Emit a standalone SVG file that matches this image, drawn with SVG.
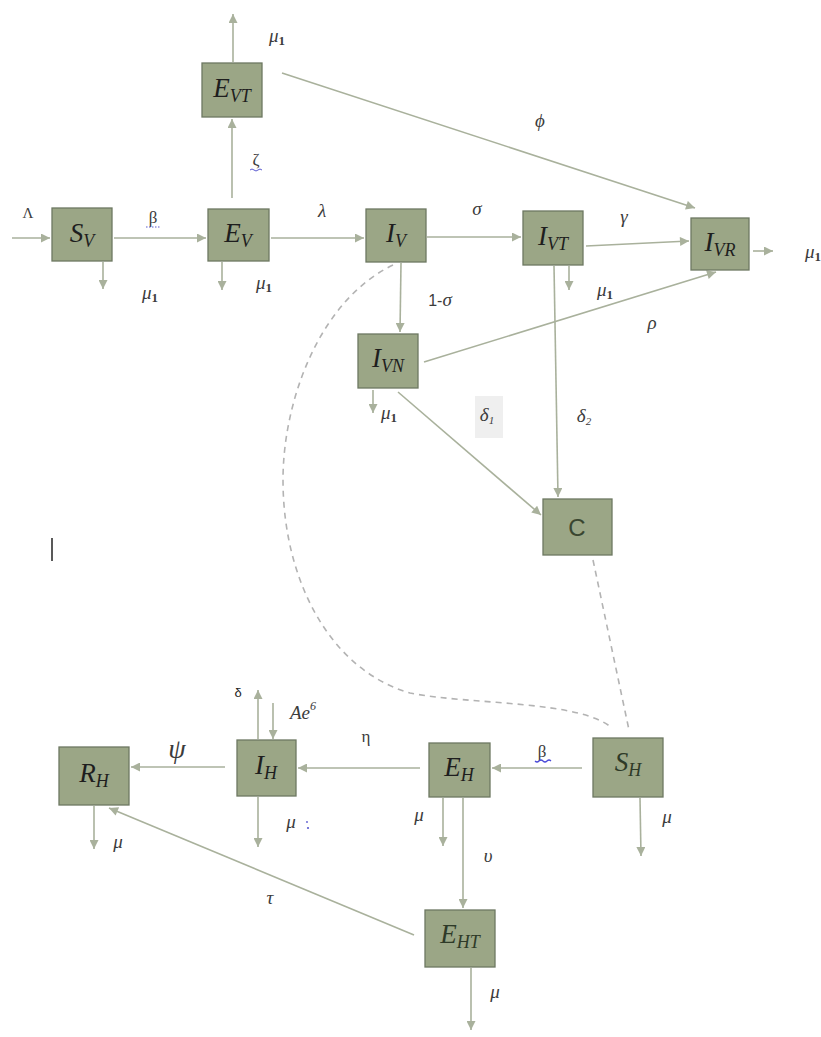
<svg xmlns="http://www.w3.org/2000/svg" width="821" height="1037" viewBox="0 0 821 1037">
<style>
.box{fill:#9ba686;stroke:#6d7862;stroke-width:1.3}
.c{fill:none;stroke:#a9b19c;stroke-width:1.6}
.d{fill:none;stroke:#b3b3b3;stroke-width:1.6;stroke-dasharray:6 5}
.bl{font-family:"Liberation Serif","DejaVu Serif",serif;font-style:italic;font-size:27px;fill:#1e1e1e;text-anchor:middle}
.sub{font-size:18px}
.lb{font-family:"Liberation Serif","DejaVu Serif",serif;font-style:italic;font-size:19px;fill:#3c3c3c;text-anchor:middle}
.up{font-family:"Liberation Serif","DejaVu Serif",serif;font-style:normal;font-size:17px;fill:#3c3c3c;text-anchor:middle}
.s1{font-style:normal;font-size:13px;font-weight:bold}
</style>
<defs>
<marker id="ah" viewBox="0 0 10 10" refX="10" refY="5" markerWidth="10" markerHeight="9" markerUnits="userSpaceOnUse" orient="auto">
<path d="M0,0 L10,5 L0,10 z" fill="#a9b19c"/>
</marker>
</defs>

<g id="connectors">
<line class="c" x1="12" y1="238" x2="50" y2="238" marker-end="url(#ah)"/>
<line class="c" x1="114" y1="238" x2="206" y2="238" marker-end="url(#ah)"/>
<line class="c" x1="103" y1="262" x2="103" y2="289" marker-end="url(#ah)"/>
<line class="c" x1="222" y1="262" x2="222" y2="290" marker-end="url(#ah)"/>
<line class="c" x1="232" y1="198" x2="232" y2="119" marker-end="url(#ah)"/>
<line class="c" x1="233" y1="62" x2="233" y2="14" marker-end="url(#ah)"/>
<line class="c" x1="282" y1="73" x2="695" y2="208" marker-end="url(#ah)"/>
<line class="c" x1="271" y1="238" x2="364" y2="238" marker-end="url(#ah)"/>
<line class="c" x1="427" y1="237" x2="521" y2="237" marker-end="url(#ah)"/>
<line class="c" x1="586" y1="246" x2="689" y2="241" marker-end="url(#ah)"/>
<line class="c" x1="753" y1="251" x2="773" y2="251" marker-end="url(#ah)"/>
<line class="c" x1="401" y1="263" x2="400" y2="332" marker-end="url(#ah)"/>
<line class="c" x1="569" y1="266" x2="569" y2="290" marker-end="url(#ah)"/>
<line class="c" x1="554" y1="266" x2="558" y2="497" marker-end="url(#ah)"/>
<line class="c" x1="424" y1="362" x2="716" y2="272" marker-end="url(#ah)"/>
<line class="c" x1="373" y1="390" x2="373" y2="413" marker-end="url(#ah)"/>
<line class="c" x1="398" y1="392" x2="541" y2="515" marker-end="url(#ah)"/>
<path class="d" d="M393,265 C320,300 283,400 283,480 C283,580 330,670 410,693 C470,705 580,700 612,728"/>
<line class="d" x1="593" y1="560" x2="629" y2="730"/>
<line class="c" x1="582" y1="768" x2="492" y2="768" marker-end="url(#ah)"/>
<line class="c" x1="640" y1="798" x2="641" y2="856" marker-end="url(#ah)"/>
<line class="c" x1="443" y1="798" x2="443" y2="846" marker-end="url(#ah)"/>
<line class="c" x1="463" y1="798" x2="463" y2="908" marker-end="url(#ah)"/>
<line class="c" x1="420" y1="768" x2="298" y2="768" marker-end="url(#ah)"/>
<line class="c" x1="225" y1="767" x2="131" y2="767" marker-end="url(#ah)"/>
<line class="c" x1="258" y1="739" x2="258" y2="690" marker-end="url(#ah)"/>
<line class="c" x1="273" y1="703" x2="273" y2="739" marker-end="url(#ah)"/>
<line class="c" x1="258" y1="797" x2="258" y2="847" marker-end="url(#ah)"/>
<line class="c" x1="94" y1="806" x2="94" y2="849" marker-end="url(#ah)"/>
<line class="c" x1="414" y1="935" x2="109" y2="808" marker-end="url(#ah)"/>
<line class="c" x1="471" y1="968" x2="471" y2="1030" marker-end="url(#ah)"/>
</g>

<g id="labels">
<text class="up" x="28" y="218" style="font-size:15px">Λ</text>
<text class="up" x="153" y="223">β</text>
<line x1="146" y1="227" x2="161" y2="227" stroke="#5a5ad0" stroke-width="1.2" stroke-dasharray="1.5 1.5"/>
<text class="lb" x="150" y="299">μ<tspan class="s1" dy="3">1</tspan></text>
<text class="lb" x="264" y="289">μ<tspan class="s1" dy="3">1</tspan></text>
<text class="up" x="256" y="165">ζ</text>
<path d="M250,170 q2,-2 4,0 t4,0 t4,0" fill="none" stroke="#5a5ad0" stroke-width="1"/>
<text class="lb" x="277" y="42">μ<tspan class="s1" dy="3">1</tspan></text>
<text class="lb" x="540" y="127">ϕ</text>
<text class="lb" x="322" y="217">λ</text>
<text class="lb" x="477" y="215">σ</text>
<text class="lb" x="624" y="223">γ</text>
<text class="lb" x="805" y="258" style="text-anchor:start">μ<tspan class="s1" dy="3">1</tspan></text>
<text class="lb" x="440" y="306"><tspan style="font-family:'Liberation Sans',sans-serif;font-style:normal;font-size:16px">1-</tspan>σ</text>
<text class="lb" x="605" y="296">μ<tspan class="s1" dy="3">1</tspan></text>
<text class="lb" x="652" y="329">ρ</text>
<text class="lb" x="389" y="419">μ<tspan class="s1" dy="3">1</tspan></text>
<rect x="475" y="396" width="28" height="42" fill="#efefef"/>
<text class="lb" x="487" y="421">δ<tspan style="font-size:11px" dy="3">1</tspan></text>
<text class="lb" x="584" y="422">δ<tspan style="font-size:11px" dy="3">2</tspan></text>
<text class="lb" x="177" y="758" style="font-size:28px">ψ</text>
<text x="238" y="697" style="font-family:'Liberation Sans',sans-serif;font-size:13px;fill:#222;text-anchor:middle">δ</text>
<text class="lb" x="303" y="719">Ae<tspan style="font-size:12px" dy="-9">6</tspan></text>
<text class="up" x="366" y="742">η</text>
<text class="up" x="542" y="757">β</text>
<path d="M535,761 q2,2 4,0 t4,0 t4,0 t4,0" fill="none" stroke="#4a4ad8" stroke-width="1.2"/>
<text class="lb" x="291" y="828">μ</text>
<circle cx="307" cy="822" r="0.9" fill="#5a5ad0"/>
<circle cx="308" cy="828" r="1.1" fill="#5a5ad0"/>
<text class="lb" x="118" y="848">μ</text>
<text class="lb" x="419" y="821">μ</text>
<text class="lb" x="488" y="862">υ</text>
<text class="lb" x="667" y="823">μ</text>
<text class="lb" x="270" y="904">τ</text>
<text class="lb" x="495" y="998">μ</text>
<line x1="52" y1="538" x2="52" y2="561" stroke="#222" stroke-width="1.5"/>
</g>

<g id="E_VT"><rect class="box" x="202" y="63" width="60" height="54"/><text class="bl" x="232" y="97">E<tspan class="sub" dy="5">VT</tspan></text></g>
<g id="S_V"><rect class="box" x="52" y="208" width="60" height="53"/><text class="bl" x="82" y="242">S<tspan class="sub" dy="5">V</tspan></text></g>
<g id="E_V"><rect class="box" x="208" y="209" width="61" height="52"/><text class="bl" x="238" y="242">E<tspan class="sub" dy="5">V</tspan></text></g>
<g id="I_V"><rect class="box" x="366" y="209" width="60" height="53"/><text class="bl" x="396" y="242">I<tspan class="sub" dy="5">V</tspan></text></g>
<g id="I_VT"><rect class="box" x="523" y="211" width="60" height="54"/><text class="bl" x="553" y="245">I<tspan class="sub" dy="5">VT</tspan></text></g>
<g id="I_VR"><rect class="box" x="691" y="218" width="58" height="52"/><text class="bl" x="720" y="251">I<tspan class="sub" dy="5">VR</tspan></text></g>
<g id="I_VN"><rect class="box" x="358" y="334" width="60" height="54"/><text class="bl" x="388" y="367">I<tspan class="sub" dy="5">VN</tspan></text></g>
<g id="C"><rect class="box" x="543" y="499" width="69" height="56"/><text x="577" y="536" style="font-family:'Liberation Sans',sans-serif;font-size:24px;fill:#3a4630;text-anchor:middle">C</text></g>
<g id="R_H"><rect class="box" x="59" y="747" width="70" height="58"/><text class="bl" x="94" y="782">R<tspan class="sub" dy="5">H</tspan></text></g>
<g id="I_H"><rect class="box" x="237" y="740" width="59" height="56"/><text class="bl" x="266" y="774">I<tspan class="sub" dy="5">H</tspan></text></g>
<g id="E_H"><rect class="box" x="429" y="743" width="61" height="54"/><text class="bl" x="459" y="776">E<tspan class="sub" dy="5">H</tspan></text></g>
<g id="S_H"><rect class="box" x="593" y="738" width="70" height="59"/><text class="bl" x="628" y="771" style="fill:#2e3a28">S<tspan class="sub" dy="5">H</tspan></text></g>
<g id="E_HT"><rect class="box" x="425" y="910" width="70" height="57"/><text class="bl" x="460" y="943" style="fill:#2e3a28">E<tspan class="sub" dy="5">HT</tspan></text></g>
</svg>
